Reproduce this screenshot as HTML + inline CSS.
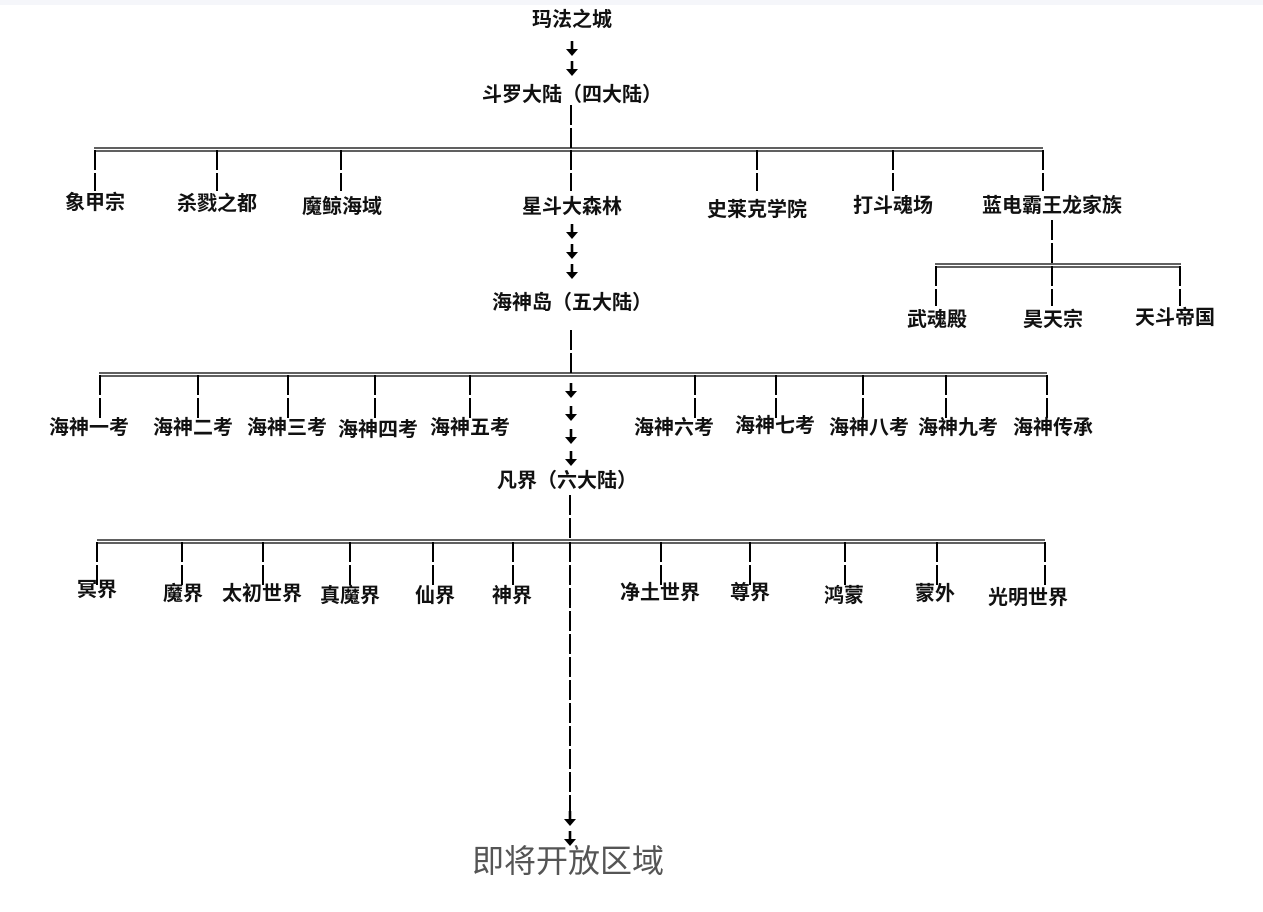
<!DOCTYPE html>
<html><head><meta charset="utf-8">
<style>
html,body{margin:0;padding:0;background:#fff;}
svg{display:block;}
text{font-family:"Liberation Sans","Noto Sans CJK SC",sans-serif;font-size:20px;font-weight:bold;fill:#111;text-anchor:middle;dominant-baseline:central;}
</style></head><body>
<svg id="s" width="1263" height="912" xmlns="http://www.w3.org/2000/svg">
<rect x="0" y="0" width="1263" height="5" fill="#f5f6fa"/>
<g id="g" stroke="#000" fill="#000"></g>
<text x="572" y="20">玛法之城</text>
<text x="572" y="95">斗罗大陆（四大陆）</text>
<text x="95" y="203">象甲宗</text>
<text x="217" y="204">杀戮之都</text>
<text x="342" y="207">魔鲸海域</text>
<text x="572" y="207">星斗大森林</text>
<text x="757" y="210">史莱克学院</text>
<text x="893" y="206">打斗魂场</text>
<text x="1052" y="206">蓝电霸王龙家族</text>
<text x="937" y="320">武魂殿</text>
<text x="1053" y="320">昊天宗</text>
<text x="1175" y="318">天斗帝国</text>
<text x="572" y="303">海神岛（五大陆）</text>
<text x="89" y="428">海神一考</text>
<text x="193" y="428">海神二考</text>
<text x="287" y="428">海神三考</text>
<text x="378" y="430">海神四考</text>
<text x="470" y="428">海神五考</text>
<text x="674" y="428">海神六考</text>
<text x="775" y="426">海神七考</text>
<text x="869" y="428">海神八考</text>
<text x="958" y="428">海神九考</text>
<text x="1053" y="428">海神传承</text>
<text x="567" y="481">凡界（六大陆）</text>
<text x="97" y="590">冥界</text>
<text x="183" y="594">魔界</text>
<text x="262" y="594">太初世界</text>
<text x="350" y="596">真魔界</text>
<text x="435" y="596">仙界</text>
<text x="512" y="596">神界</text>
<text x="660" y="593">净土世界</text>
<text x="750" y="593">尊界</text>
<text x="844" y="596">鸿蒙</text>
<text x="935" y="594">蒙外</text>
<text x="1028" y="598">光明世界</text>
<text x="568" y="861" style="font-size:32px;font-weight:normal;fill:#555;">即将开放区域</text>
</svg>
<script>
var g=document.getElementById('g'),NS='http://www.w3.org/2000/svg';
function el(t,a){var e=document.createElementNS(NS,t);for(var k in a)e.setAttribute(k,a[k]);g.appendChild(e);}
function vd(x,y1,y2){el('line',{x1:x,y1:y1,x2:x,y2:y2,'stroke-width':2,'stroke-dasharray':'20 3'});}
function hb(x1,x2,y){el('line',{x1:x1,y1:y,x2:x2,y2:y,'stroke-width':1.3});el('line',{x1:x1,y1:y+3,x2:x2,y2:y+3,'stroke-width':1.3});}
function ar(x,tip){el('line',{x1:x,y1:tip-15,x2:x,y2:tip-4,'stroke-width':2.6});el('path',{d:'M'+(x-6)+' '+(tip-7)+' L'+(x+6)+' '+(tip-7)+' L'+x+' '+tip+' Z','stroke':'none'});}
ar(572,56);ar(572,76);
vd(571,105,150);hb(94,1043,148);
[95,217,341,571,757,893,1043].forEach(function(x){vd(x,150,191);});
ar(572,239);ar(572,259);ar(572,279);
vd(1052,220,265);hb(935,1181,264);
[936,1052,1180].forEach(function(x){vd(x,266,306);});
vd(571,330,374);hb(99,1047,373);
[100,198,288,375,470,695,776,863,946,1047].forEach(function(x){vd(x,375,418);});
ar(571,398);ar(571,421);ar(571,444);ar(571,466);
vd(570,495,541);hb(97,1045,540);
[97,182,263,350,433,513,661,750,845,937,1045].forEach(function(x){vd(x,542,585);});
vd(570,542,815);ar(570,826);ar(570,846);
</script>
</body></html>
